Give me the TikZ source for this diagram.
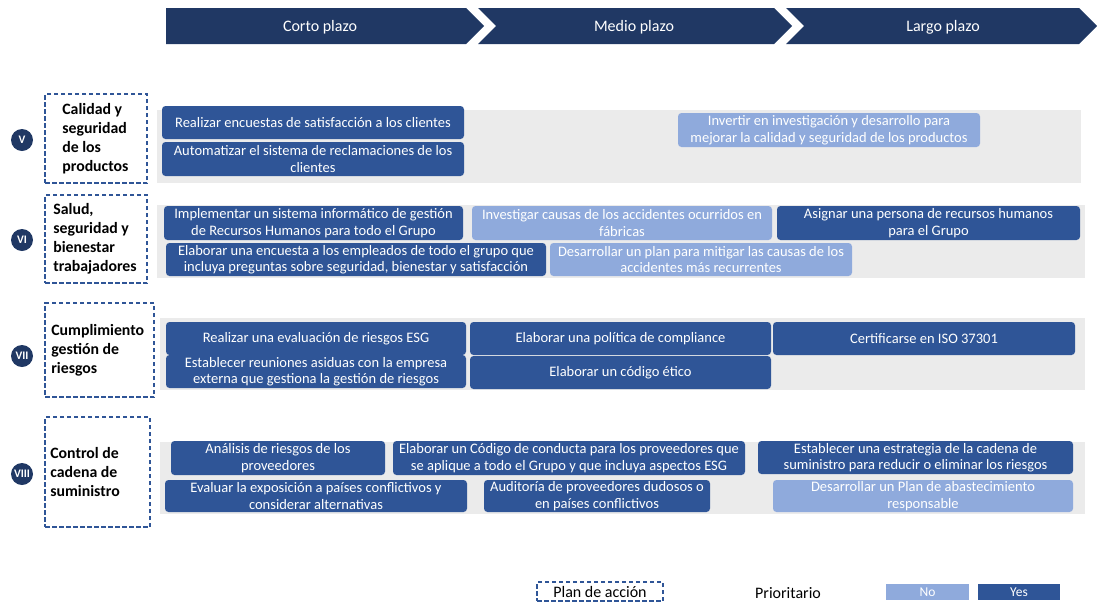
\documentclass[tikz,border=0pt]{standalone}
\usepackage{fontspec}
\setmainfont{Carlito}
\usetikzlibrary{positioning}
\definecolor{navy}{HTML}{203864}
\definecolor{yesblue}{HTML}{2F5597}
\definecolor{noblue}{HTML}{8FAADC}
\definecolor{bandgray}{HTML}{EBEBEB}
\tikzset{
	plazo/.style={
		text=white,
		font=\fontsize{16}{18}\selectfont
	},
	actbox/.style={
		rounded corners=3.5pt,
		text=white,
		align=center,
		inner sep=0pt,
		font=\fontsize{14.5}{16.5}\selectfont
	},
	yesbox/.style={actbox, fill=yesblue},
	nobox/.style={actbox, fill=noblue},
	planbox/.style={
		draw=yesblue,
		dash pattern=on 4.5pt off 2.5pt,
		line width=1.7pt,
		inner sep=0pt
	},
	roman/.style={
		circle,
		fill=navy,
		text=white,
		minimum size=22pt,
		inner sep=0pt,
		font=\fontsize{11.5}{12}\bfseries
	},
	area/.style={
		anchor=west,
		align=left,
		inner sep=0pt,
		font=\fontsize{15.8}{19}\selectfont\bfseries
	}
}

\begin{document}
\begin{tikzpicture}[x=1pt, y=-1pt]
\useasboundingbox (0,0) rectangle (1097,603);

% plazos
\fill[navy] (166,8) -- (466,8) -- (484,26) -- (466,44) -- (166,44) -- cycle;
\fill[navy] (478,8) -- (774,8) -- (792,26) -- (774,44) -- (478,44) -- (496,26) -- cycle;
\fill[navy] (786,8) -- (1079,8) -- (1097,26) -- (1079,44) -- (786,44) -- (804,26) -- cycle;
\node[plazo] (corto) at (320,27.5) {Corto plazo};
\node[plazo] (medio) at (634,27.5) {Medio plazo};
\node[plazo] (largo) at (943,27.5) {Largo plazo};

% bandas
\fill[bandgray] (157,110) rectangle (1081,183);
\fill[bandgray] (157,205) rectangle (1085,278);
\fill[bandgray] (160,318) rectangle (1085,390);
\fill[bandgray] (160,442) rectangle (1085,514);

% V
\node[roman] (rV) at (22,140) {V};
\node[planbox, minimum width=102pt, minimum height=89pt] (pV) at (96,138.5) {};
\node[area, right=18pt of pV.west] (tV) {Calidad y\\seguridad\\de los\\productos};
\node[yesbox, minimum width=302pt, minimum height=33pt] (v1) at (313,122.5) {Realizar encuestas de satisfacción a los clientes};
\node[yesbox, minimum width=302pt, minimum height=34pt] (v2) at (313,159) {Automatizar el sistema de reclamaciones de los\\clientes};
\node[nobox, minimum width=302pt, minimum height=34pt] (v3) at (829,130) {Invertir en investigación y desarrollo para\\mejorar la calidad y seguridad de los productos};

% VI
\node[roman] (rVI) at (22,240) {VI};
\node[planbox, minimum width=102pt, minimum height=88pt] (pVI) at (96,239) {};
\node[area, right=9pt of pVI.west] (tVI) {Salud,\\seguridad y\\bienestar\\trabajadores};
\node[yesbox, minimum width=299pt, minimum height=34pt] (vi1) at (313.5,223) {Implementar un sistema informático de gestión\\de Recursos Humanos para todo el Grupo};
\node[nobox, minimum width=300pt, minimum height=34pt] (vi2) at (622,223) {Investigar causas de los accidentes ocurridos en\\fábricas};
\node[yesbox, minimum width=303pt, minimum height=34pt] (vi3) at (928.5,223) {Asignar una persona de recursos humanos\\para el Grupo};
\node[yesbox, minimum width=380pt, minimum height=33pt] (vi4) at (356,259.5) {Elaborar una encuesta a los empleados de todo el grupo que\\incluya preguntas sobre seguridad, bienestar y satisfacción};
\node[nobox, minimum width=302pt, minimum height=33pt] (vi5) at (701,259.5) {Desarrollar un plan para mitigar las causas de los\\accidentes más recurrentes};

% VII
\node[roman] (rVII) at (22,356) {VII};
\node[planbox, minimum width=109pt, minimum height=94pt] (pVII) at (99.5,350) {};
\node[area, right=7pt of pVII.west] (tVII) {Cumplimiento\\gestión de\\riesgos};
\node[yesbox, minimum width=300pt, minimum height=33pt] (vii1) at (316,338.5) {Realizar una evaluación de riesgos ESG};
\node[yesbox, minimum width=300pt, minimum height=33pt] (vii2) at (316,371.5) {Establecer reuniones asiduas con la empresa\\externa que gestiona la gestión de riesgos};
\node[yesbox, minimum width=301pt, minimum height=33pt] (vii3) at (620.5,338.5) {Elaborar una política de compliance};
\node[yesbox, minimum width=301pt, minimum height=33pt] (vii4) at (620.5,372.5) {Elaborar un código ético};
\node[yesbox, minimum width=302pt, minimum height=33pt] (vii5) at (924,338.5) {Certificarse en ISO 37301};

% VIII
\node[roman] (rVIII) at (22,474) {VIII};
\node[planbox, minimum width=105pt, minimum height=110pt] (pVIII) at (97.5,472) {};
\node[area, right=6pt of pVIII.west] (tVIII) {Control de\\cadena de\\suministro};
\node[yesbox, minimum width=214pt, minimum height=34pt] (viii1) at (278,458) {Análisis de riesgos de los\\proveedores};
\node[yesbox, minimum width=352pt, minimum height=34pt] (viii2) at (569,458) {Elaborar un Código de conducta para los proveedores que\\se aplique a todo el Grupo y que incluya aspectos ESG};
\node[yesbox, minimum width=315pt, minimum height=33pt] (viii3) at (915.5,457.5) {Establecer una estrategia de la cadena de\\suministro para reducir o eliminar los riesgos};
\node[yesbox, minimum width=302pt, minimum height=32pt] (viii4) at (316,496) {Evaluar la exposición a países conflictivos y\\considerar alternativas};
\node[yesbox, minimum width=226pt, minimum height=32pt] (viii5) at (597,496) {Auditoría de proveedores dudosos o\\en países conflictivos};
\node[nobox, minimum width=300pt, minimum height=32pt] (viii6) at (923,496) {Desarrollar un Plan de abastecimiento\\responsable};

% leyenda
\node[planbox, minimum width=126pt, minimum height=19pt, font=\fontsize{16}{17}\selectfont] (legplan) at (600,591.5) {Plan de acción};
\node[font=\fontsize{16}{17}\selectfont, inner sep=0pt] (legprio) at (788,593) {Prioritario};
\node[nobox, rounded corners=0pt, minimum width=83pt, minimum height=16pt, font=\fontsize{13.5}{14}\selectfont] (legno) at (927.5,592) {No};
\node[yesbox, rounded corners=0pt, minimum width=82pt, minimum height=16pt, font=\fontsize{13.5}{14}\selectfont] (legyes) at (1019,592) {Yes};
\end{tikzpicture}
\end{document}
